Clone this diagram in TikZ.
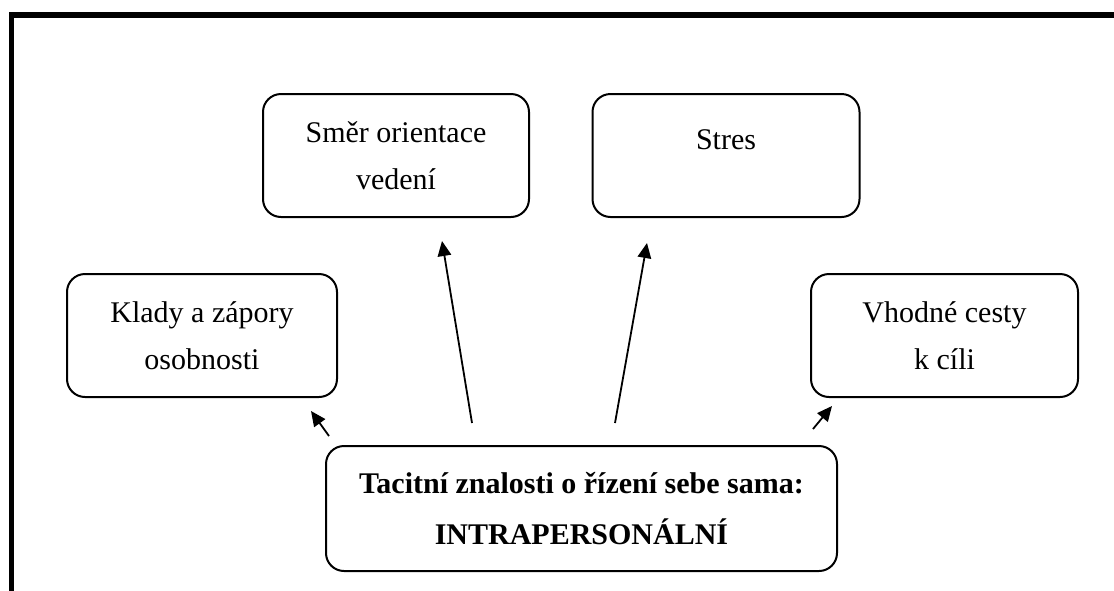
\documentclass[tikz,border=0pt]{standalone}
\usepackage{fontspec}
\setmainfont{Liberation Serif}
\usetikzlibrary{arrows.meta,calc}
\tikzset{
  box/.style={draw, line width=2pt, rounded corners=18pt, align=center,
    font=\fontsize{30}{47}\selectfont, inner sep=0pt},
  conn/.style={line width=1.8pt, -{Triangle[length=15pt,width=13.5pt]}},
  frame/.style={line width=5.5pt}
}
\begin{document}
\begin{tikzpicture}[x=1pt,y=-1pt]
\useasboundingbox (0,0) rectangle (1114,590);
\clip (0,0) rectangle (1114,590);
\draw[frame] (11.5,600) -- (11.5,15) -- (1130,15);
\node[box, minimum width=270pt, minimum height=123pt] (k) at (202,335.5) {Klady a zápory\\osobnosti};
\node[box, minimum width=266pt, minimum height=123pt] (s) at (396,155.5) {Směr orientace\\vedení};
\node[box, minimum width=267pt, minimum height=123pt] (st) at (726,155.5) {};
\node[font=\fontsize{30}{47}\selectfont] (stt) at ($(st.center)+(0,-16)$) {Stres};
\node[box, minimum width=267pt, minimum height=123pt] (v) at (944.5,335.5) {Vhodné cesty\\k cíli};
\node[box, minimum width=511pt, minimum height=125pt, font=\fontsize{30}{51}\selectfont\bfseries] (c) at (581.5,508.5) {Tacitní znalosti o řízení sebe sama:\\INTRAPERSONÁLNÍ};
\coordinate (a1s) at ($(c.north west)+(4,-9)$);
\coordinate (a1e) at ($(k.south east)+(-27,13)$);
\coordinate (a2s) at (472,423);
\coordinate (a2e) at ($(s.south)+(46,23)$);
\coordinate (a3s) at (615,423);
\coordinate (a3e) at ($(st.south)+(-79,25)$);
\coordinate (a4s) at ($(c.north east)+(-25,-16)$);
\coordinate (a4e) at ($(v.south west)+(22,8)$);
\draw[conn] (a1s) -- (a1e);
\draw[conn] (a2s) -- (a2e);
\draw[conn] (a3s) -- (a3e);
\draw[conn] (a4s) -- (a4e);
\end{tikzpicture}
\end{document}
